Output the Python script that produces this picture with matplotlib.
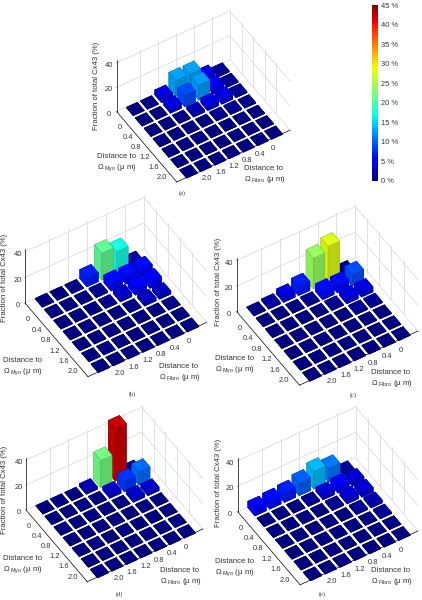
import numpy as np
import matplotlib
matplotlib.use('Agg')
import matplotlib.pyplot as plt
from mpl_toolkits.mplot3d import proj3d

plt.rcParams['font.family'] = ['Liberation Sans', 'DejaVu Sans']
plt.rcParams['mathtext.fontset'] = 'custom'
plt.rcParams['mathtext.rm'] = 'Liberation Sans'
plt.rcParams['mathtext.it'] = 'Liberation Sans'
plt.rcParams['mathtext.bf'] = 'Liberation Sans'

W, H = 422, 600
GRAY = '#333333'

# rows: distance to fibroblast, columns: distance to myocyte (% of total Cx43)
valuesA = [[1.0, 1.0, 1.0, 0.5, 0, 0, 0],
           [4.5, 4.5, 4.0, 1.0, 0, 0, 0],
           [13, 12.5, 4.0, 1.0, 0, 0, 0],
           [13, 9, 2.0, 0, 0, 0, 0],
           [4.0, 4.0, 0.5, 0, 0, 0, 0],
           [0.5, 0, 0, 0, 0, 0, 0],
           [0, 0, 0, 0, 0, 0, 0]]
valuesB = [[1.5, 6, 5, 2.5, 0.5, 0, 0],
           [17, 6, 5, 2.5, 0, 0, 0],
           [21, 6, 3, 0.5, 0, 0, 0],
           [7, 1, 0.5, 0, 0, 0, 0],
           [0.5, 0, 0, 0, 0, 0, 0],
           [0, 0, 0, 0, 0, 0, 0],
           [0, 0, 0, 0, 0, 0, 0]]
valuesC = [[1, 9, 4, 1, 0, 0, 0],
           [28, 6, 4, 1, 0, 0, 0],
           [24, 6, 1, 0, 0, 0, 0],
           [7, 1, 0, 0, 0, 0, 0],
           [4, 0, 0, 0, 0, 0, 0],
           [1.5, 0, 0, 0, 0, 0, 0],
           [0.5, 0, 0, 0, 0, 0, 0]]
valuesD = [[1, 10.5, 3, 0, 0, 0, 0],
           [42, 8, 3, 0, 0, 0, 0],
           [22, 3, 0, 0, 0, 0, 0],
           [2, 0, 0, 0, 0, 0, 0],
           [0, 0, 0, 0, 0, 0, 0],
           [0, 0, 0, 0, 0, 0, 0],
           [0, 0, 0, 0, 0, 0, 0]]
valuesE = [[1, 3.5, 3.5, 2, 1, 0, 0],
           [11, 5, 3.5, 1, 0, 0, 0],
           [14, 3.5, 1, 0, 0, 0, 0],
           [10, 1, 0, 0, 0, 0, 0],
           [7, 0, 0, 0, 0, 0, 0],
           [6, 0, 0, 0, 0, 0, 0],
           [5, 0, 0, 0, 0, 0, 0]]

distTicks = ['0', '0.4', '0.8', '1.2', '1.6', '2.0']
zTicks = [0, 20, 40]
cbarTicks = [0, 5, 10, 15, 20, 25, 30, 35, 40, 45]
captions = ['(a)', '(b)', '(c)', '(d)', '(e)']
allValues = [valuesA, valuesB, valuesC, valuesD, valuesE]

# floor corners in image pixels: left and right
leftCorner = [(116.7, 111.7), (25, 303), (236.7, 311.7), (26, 510), (237.7, 511.7)]
rightCorner = [(290, 130), (206.7, 326.7), (418, 332), (203, 531.7), (418, 531.7)]
zLabelPos = [(96.7, 86), (5, 278), (218, 282), (5, 490), (218, 483)]
myoLabelPos = [(96.7, 163), (2.7, 367), (215, 365), (3, 565), (215, 568)]
fibroLabelPos = [(244, 175), (159, 373), (371, 379), (160, 577), (371, 577)]
captionPos = [(182, 193), (132, 394), (353, 395), (119, 594), (322, 594)]

# box size in cell units, the cells do not fill the box
xMax, yMax, zMax = 8.0, 6.75, 42
xStart, yStart = 0.95, 0.42

fig = plt.figure(figsize=(W / 100, H / 100), dpi=100, facecolor='white')


def projectCorners(ax, pts):
    ax.apply_aspect()
    xs, ys, _ = proj3d.proj_transform(*np.array(pts, float).T, ax.get_proj())
    return ax.transData.transform(np.column_stack([xs, ys]))


def fitAxes(ax, left, right):
    # scale and shift the axes so the floor corners land where they should
    size = 250.0
    x0, y0 = 100.0, 100.0
    corners = [(xMax, 0, 0), (0, yMax, 0)]
    ax.set_position([x0 / W, y0 / H, size / W, size / H])
    p = projectCorners(ax, corners)
    size *= (right[0] - left[0]) / (p[1][0] - p[0][0])
    ax.set_position([x0 / W, y0 / H, size / W, size / H])
    p = projectCorners(ax, corners)
    x0 += left[0] - p[0][0]
    y0 += (H - left[1]) - p[0][1]
    ax.set_position([x0 / W, y0 / H, size / W, size / H])


def shaded(c, k):
    return (c[0] * k, c[1] * k, c[2] * k, 1)


def drawPanel(i):
    values = np.array(allValues[i], float)
    ax = fig.add_axes([0, 0, 0.5, 0.5], projection='3d', proj_type='ortho',
                      computed_zorder=False)
    ax.set_facecolor('none')
    ax.set_xlim(0, xMax)
    ax.set_ylim(0, yMax)
    ax.set_zlim(0, zMax)
    ax.set_box_aspect((401, 340, 226))
    ax.view_init(elev=47, azim=58)

    ax.set_xticks([])
    ax.set_yticks([])
    ax.set_zticks(zTicks)
    for axis in (ax.xaxis, ax.yaxis, ax.zaxis):
        axis.set_pane_color((1, 1, 1, 0))
        axis._axinfo['grid']['color'] = '#dcdcdc'
        axis._axinfo['grid']['linewidth'] = 0.6
        axis._axinfo['axisline']['color'] = '#888888'
        axis.line.set_linewidth(0.5)
        axis.pane.set_edgecolor('#dcdcdc')
    ax.zaxis._axinfo['tick']['inward_factor'] = 0.0
    ax.zaxis._axinfo['tick']['outward_factor'] = 0.06
    ax.zaxis._axinfo['tick']['linewidth'] = {True: 0.4, False: 0.3}
    ax.tick_params(axis='z', labelsize=5.4, colors=GRAY, pad=-5)

    # vertical wall lines
    for k in range(6):
        ax.plot([k * 1.27, k * 1.27], [0, 0], [0, zMax], color='#dcdcdc', lw=0.6, zorder=1)
    for k in range(1, 5):
        ax.plot([0, 0], [k * 1.3, k * 1.3], [0, zMax], color='#dcdcdc', lw=0.6, zorder=1)

    width = 0.78
    for total in range(13):
        for f in range(7):
            m = total - f
            if m < 0 or m > 6:
                continue
            v = values[f, m]
            c = plt.cm.jet(v / 45.0)
            faces = [shaded(c, 0.6), shaded(c, 1.0), shaded(c, 0.7), shaded(c, 0.82),
                     shaded(c, 0.7), shaded(c, 0.92)]
            ax.bar3d(f + xStart - width / 2, m + yStart - width / 2, 0, width, width,
                     max(v, 0.4), color=faces, edgecolor=shaded(c, 0.7), linewidth=0.2,
                     shade=False, zorder=2 + total)

    fitAxes(ax, leftCorner[i], rightCorner[i])

    # distance tick labels, just off the floor edges
    for k, label in enumerate(distTicks):
        fibroPt = (1.66 + 0.93 * k, 7.5, 0)
        myoPt = (8.55, 1.18 + 0.96 * k, 0)
        for px, py in projectCorners(ax, [fibroPt, myoPt]):
            fig.text(px / W, py / H, label, fontsize=5.4, color=GRAY,
                     ha='center', va='center')

    x, y = zLabelPos[i]
    fig.text(x / W, 1 - y / H, 'Fraction of total Cx43 (%)', rotation=90, fontsize=5.6,
             color=GRAY, ha='center', va='center')
    x, y = myoLabelPos[i]
    fig.text(x / W, 1 - y / H, 'Distance to\n$\\Omega_{\\ Myo}$ ($\\mu$ m)', fontsize=5.6,
             color=GRAY, ha='left', va='center', linespacing=1.3)
    x, y = fibroLabelPos[i]
    fig.text(x / W, 1 - y / H, 'Distance to\n$\\Omega_{\\ Fibro}$ ($\\mu$ m)', fontsize=5.6,
             color=GRAY, ha='left', va='center', linespacing=1.3)
    x, y = captionPos[i]
    fig.text(x / W, 1 - y / H, captions[i], fontsize=4.6, color=GRAY,
             family='Liberation Serif', ha='center', va='center')


for i in range(5):
    drawPanel(i)

# colorbar
cax = fig.add_axes([372 / W, 1 - 180.6 / H, 6 / W, 175.6 / H])
gradient = np.linspace(0, 45, 256).reshape(-1, 1)
cax.imshow(gradient, aspect='auto', origin='lower', cmap='jet', extent=[0, 1, 0, 45])
cax.set_xticks([])
cax.yaxis.tick_right()
cax.set_yticks(cbarTicks, ['%d %%' % t for t in cbarTicks])
cax.tick_params(axis='y', labelsize=5.4, colors=GRAY, length=0, pad=2.5)
for s in cax.spines.values():
    s.set_visible(False)

fig.savefig('out.png', dpi=100)
